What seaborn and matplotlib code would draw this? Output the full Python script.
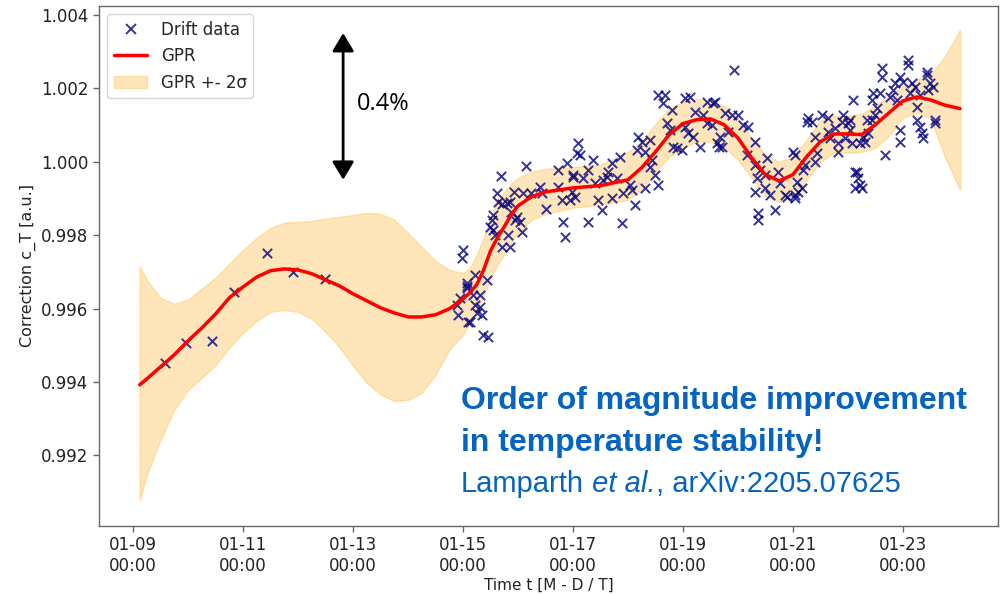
import numpy as np
import pandas as pd
import matplotlib
matplotlib.use("Agg")
import matplotlib.pyplot as plt
import matplotlib.dates as mdates
from matplotlib.lines import Line2D
from matplotlib.patches import Patch
import seaborn as sns

# ---- data -------------------------------------------------------------
start = pd.Timestamp("2022-01-09 00:00")

# drift measurements: time since start [days] and correction factor
drift_day = [
    0.58, 0.96, 1.44, 1.84, 2.44, 2.91, 3.49,
    6.00, 5.98, 6.07, 5.95, 5.91, 6.09, 7.15, 6.69, 6.62, 6.64, 6.71, 6.85,
    6.93, 7.09, 7.24, 7.40, 7.44, 7.51, 7.73, 7.89, 8.00, 8.07, 7.73, 7.80,
    7.95, 7.82, 7.85, 6.55, 6.53, 6.49, 6.58, 6.80, 6.87, 6.95, 7.04, 7.07,
    6.82, 6.71, 6.85, 6.55, 6.22, 6.44, 6.07, 6.07, 6.18, 6.31, 5.89, 6.22,
    6.31, 6.25, 6.35, 6.13, 6.36, 6.45, 6.98,
    9.55, 9.67, 9.64, 10.04, 10.13, 10.44, 10.55, 10.22, 10.36, 10.44, 10.53,
    9.80, 9.71, 9.76, 10.04, 10.09, 10.18, 10.31, 9.82, 9.89, 9.98, 10.65,
    9.18, 9.25, 9.16, 9.40, 9.31, 9.44, 9.40, 9.49, 9.55, 9.31, 9.13, 9.04,
    9.07, 8.85, 8.71, 8.64, 8.62, 8.55, 8.80, 8.91, 8.71, 8.45, 8.53, 8.89,
    8.27, 8.36, 8.09, 8.13, 8.27, 8.00, 8.18, 8.40, 8.04, 7.98,
    10.93, 10.58, 10.76, 10.89, 11.00, 11.09, 10.82, 10.67, 10.62, 10.71,
    11.18, 11.31, 11.16, 11.53, 11.31, 11.40, 11.35, 11.49, 11.31, 11.49,
    11.58, 11.73, 11.76, 11.85, 11.89, 12.04, 12.09, 12.07, 12.04, 12.00,
    12.18, 12.22, 12.40, 12.16, 12.04, 11.36, 11.36, 11.67, 12.27, 12.25,
    12.35, 12.53, 12.64, 12.40, 12.44, 12.64, 12.67, 12.76, 12.91, 12.89,
    13.00, 12.95, 12.82, 12.82, 13.07, 13.09, 13.16, 13.18, 13.13,
    13.62, 13.62, 14.09, 14.09, 13.95, 14.00, 14.44, 14.44, 13.85, 14.16,
    14.22, 14.49, 14.55, 14.45, 14.31, 14.13, 13.82, 13.76, 13.89, 13.58,
    13.45, 13.44, 13.53, 13.49, 13.44, 13.35, 14.25, 14.25, 14.31, 14.35,
    14.36, 14.58, 14.58, 13.95, 13.95, 13.36, 13.27, 13.22, 13.31, 13.04,
    13.67, 13.13, 13.22, 13.25, 13.04,
]
drift_val = [
    0.99451, 0.99506, 0.99512, 0.99645, 0.99752, 0.99700, 0.99681,
    0.99760, 0.99738, 0.99662, 0.99629, 0.99583, 0.99564, 0.99989, 0.99962,
    0.99915, 0.99891, 0.99885, 0.99891, 0.99918, 0.99915, 0.99915, 0.99932,
    0.99915, 0.99872, 0.99978, 0.99997, 0.99959, 1.00025, 0.99932, 0.99896,
    0.99896, 0.99836, 0.99795, 0.99855, 0.99842, 0.99823, 0.99801, 0.99888,
    0.99864, 0.99842, 0.99836, 0.99809, 0.99801, 0.99768, 0.99768, 0.99815,
    0.99692, 0.99678, 0.99670, 0.99656, 0.99637, 0.99637, 0.99610, 0.99610,
    0.99605, 0.99588, 0.99583, 0.99564, 0.99528, 0.99523, 0.99850,
    1.00183, 1.00183, 1.00161, 1.00175, 1.00177, 1.00164, 1.00161, 1.00136,
    1.00128, 1.00106, 1.00101, 1.00142, 1.00106, 1.00087, 1.00095, 1.00079,
    1.00068, 1.00041, 1.00041, 1.00038, 1.00033, 1.00041, 1.00068, 1.00055,
    1.00033, 1.00060, 1.00027, 1.00005, 0.99986, 0.99965, 0.99937, 0.99929,
    0.99883, 0.99937, 0.99924, 1.00014, 0.99997, 0.99973, 0.99959, 0.99951,
    0.99956, 0.99915, 0.99902, 0.99896, 0.99869, 0.99834, 0.99836, 1.00005,
    1.00052, 1.00019, 0.99978, 0.99965, 0.99956, 0.99943, 0.99905, 0.99918,
    1.00251, 1.00164, 1.00134, 1.00128, 1.00128, 1.00101, 1.00082, 1.00068,
    1.00052, 1.00041, 1.00095, 1.00055, 1.00019, 1.00011, 0.99992, 0.99978,
    0.99956, 0.99965, 0.99918, 0.99929, 0.99910, 0.99973, 0.99943, 0.99910,
    0.99905, 0.99910, 0.99918, 0.99945, 1.00019, 1.00027, 0.99978, 0.99992,
    1.00000, 0.99929, 0.99902, 0.99861, 0.99842, 0.99869, 1.00120, 1.00109,
    1.00109, 1.00128, 1.00120, 1.00068, 1.00025, 1.00082, 1.00065, 1.00093,
    1.00128, 1.00109, 1.00106, 1.00065, 1.00052, 1.00027, 1.00052, 1.00169,
    0.99973, 0.99956, 0.99929,
    1.00256, 1.00232, 1.00278, 1.00265, 1.00232, 1.00218, 1.00245, 1.00237,
    1.00215, 1.00215, 1.00205, 1.00215, 1.00205, 1.00196, 1.00183, 1.00188,
    1.00196, 1.00177, 1.00169, 1.00188, 1.00188, 1.00169, 1.00147, 1.00128,
    1.00115, 1.00115, 1.00150, 1.00115, 1.00095, 1.00079, 1.00065, 1.00115,
    1.00106, 1.00087, 1.00055, 1.00079, 1.00068, 1.00052, 1.00055, 1.00087,
    1.00019, 0.99973, 0.99937, 0.99929, 1.00115,
]

# Gaussian-process regression: prediction grid [days], mean and 2-sigma band
gpr_day = [
    0.12, 0.25, 0.5, 0.75, 1.0, 1.25, 1.5, 1.75, 2.0, 2.25, 2.5, 2.75, 3.0,
    3.25, 3.5, 3.75, 4.0, 4.25, 4.5, 4.75, 5.0, 5.25, 5.5, 5.75, 6.0,
    6.125, 6.25, 6.375, 6.5, 6.625, 6.75, 6.875, 7.0, 7.25,
    7.5, 8.0, 8.5, 9.0, 9.25, 9.5, 9.75, 10.0, 10.25, 10.5, 10.75, 11.0,
    11.25, 11.5, 11.75, 12.0, 12.25, 12.5, 12.75, 13.0, 13.25, 13.5, 13.75,
    14.0, 14.25, 14.5, 14.75, 15.04,
]
gpr_mean = [
    0.99392, 0.99408, 0.99441, 0.99474, 0.99512, 0.99547, 0.99585, 0.99629,
    0.99659, 0.99686, 0.99703, 0.99708, 0.99705, 0.99695, 0.99678, 0.99662,
    0.99640, 0.99621, 0.99602, 0.99588, 0.99577, 0.99577, 0.99583, 0.99599,
    0.99626,
    0.99643, 0.99665, 0.99705, 0.99757, 0.99793, 0.99823, 0.99855, 0.99880,
    0.99905,
    0.99918, 0.99929, 0.99935, 0.99951, 0.99984, 1.00027, 1.00074, 1.00104,
    1.00115, 1.00117, 1.00101, 1.00065, 1.00011, 0.99965, 0.99948, 0.99965,
    1.00014, 1.00055, 1.00076, 1.00076, 1.00074, 1.00101, 1.00134, 1.00166,
    1.00177, 1.00169, 1.00155, 1.00145,
]
gpr_upper = [
    0.99714, 0.99678, 0.99629, 0.99613, 0.99624, 0.99654, 0.99684, 0.99722,
    0.99760, 0.99793, 0.99820, 0.99834, 0.99836, 0.99839, 0.99845, 0.99850,
    0.99855, 0.99861, 0.99858, 0.99842, 0.99806, 0.99768, 0.99730, 0.99705,
    0.99697,
    0.99711, 0.99746, 0.99793, 0.99845, 0.99891, 0.99918, 0.99940, 0.99956,
    0.99973,
    0.99981, 0.99986, 0.99992, 1.00027, 1.00052, 1.00104, 1.00145, 1.00164,
    1.00172, 1.00166, 1.00153, 1.00117, 1.00065, 1.00019, 1.00000, 1.00014,
    1.00060, 1.00112, 1.00125, 1.00125, 1.00131, 1.00153, 1.00180, 1.00205,
    1.00224, 1.00237, 1.00284, 1.00360,
]
gpr_lower = [
    0.99078, 0.99146, 0.99242, 0.99324, 0.99378, 0.99411, 0.99446, 0.99493,
    0.99534, 0.99566, 0.99591, 0.99596, 0.99591, 0.99572, 0.99536, 0.99495,
    0.99444, 0.99397, 0.99365, 0.99348, 0.99351, 0.99370, 0.99419, 0.99487,
    0.99528,
    0.99561, 0.99594, 0.99635, 0.99681, 0.99719, 0.99746, 0.99779, 0.99806,
    0.99842,
    0.99858, 0.99875, 0.99883, 0.99896, 0.99924, 0.99973, 1.00014, 1.00038,
    1.00055, 1.00055, 1.00041, 1.00005, 0.99956, 0.99907, 0.99891, 0.99907,
    0.99951, 1.00000, 1.00025, 1.00025, 1.00027, 1.00038, 1.00071, 1.00120,
    1.00134, 1.00120, 1.00019, 0.99924,
]

drift_time = start + pd.to_timedelta(drift_day, unit="D")
gpr_time = start + pd.to_timedelta(gpr_day, unit="D")

# ---- style ------------------------------------------------------------
sns.set_style("ticks")
plt.rcParams["font.family"] = ["DejaVu Sans"]
plt.rcParams["axes.edgecolor"] = "#666666"
plt.rcParams["xtick.color"] = "#666666"
plt.rcParams["ytick.color"] = "#666666"
plt.rcParams["xtick.labelcolor"] = "#222222"
plt.rcParams["ytick.labelcolor"] = "#222222"

fig = plt.figure(figsize=(10.02, 5.95), dpi=100)
ax = fig.add_axes([0.0988, 0.116, 0.8972, 0.874])

# ---- marks ------------------------------------------------------------
ax.fill_between(gpr_time, gpr_lower, gpr_upper, color="orange", alpha=0.27,
                linewidth=1, zorder=1)
sns.scatterplot(x=drift_time, y=drift_val, marker="x", color="navy", s=45,
                linewidth=1.4, alpha=0.8, ax=ax, zorder=2, legend=False)
sns.lineplot(x=gpr_time, y=gpr_mean, color="red", linewidth=2.5,
             estimator=None, sort=False, ax=ax, zorder=3, legend=False)

# ---- axes -------------------------------------------------------------
ax.set_xlim(start + pd.Timedelta(days=-0.62), start + pd.Timedelta(days=15.73))
ax.set_ylim(0.99007, 1.00425)
ax.set_yticks([0.992, 0.994, 0.996, 0.998, 1.000, 1.002, 1.004])
ax.xaxis.set_major_locator(mdates.DayLocator(bymonthday=range(1, 32, 2)))
ax.xaxis.set_major_formatter(mdates.DateFormatter("%m-%d\n%H:%M"))
ax.tick_params(axis="both", labelsize=12, length=4, width=1)
for side in ax.spines.values():
    side.set_visible(True)
    side.set_linewidth(1.0)
ax.set_xlabel("Time t [M - D / T]", fontsize=11, color="#222222", labelpad=2)
ax.set_ylabel("Correction c_T [a.u.]", fontsize=11.5, color="#222222")

handles = [
    Line2D([], [], marker="x", linestyle="none", color="navy",
           markersize=7, markeredgewidth=1.4, alpha=0.8),
    Line2D([], [], color="red", linewidth=2.5),
    Patch(facecolor="orange", edgecolor="orange", alpha=0.27),
]
ax.legend(handles, ["Drift data", "GPR", "GPR +- 2\u03c3"], loc="upper left",
          fontsize=12, frameon=True)

# ---- annotations ------------------------------------------------------
arrow_x = start + pd.Timedelta(days=3.82)
ax.annotate("", xy=(arrow_x, 0.99951), xytext=(arrow_x, 1.00351),
            arrowprops=dict(arrowstyle="<|-|>,head_length=0.5,head_width=0.3",
                            color="black", lw=2, mutation_scale=22,
                            shrinkA=0, shrinkB=0))
ax.text(0.287, 0.8115, "0.4%", transform=ax.transAxes, fontsize=17,
        family="Open Sans", va="center", ha="left", color="black")

blue = "#0563c1"
ax.text(0.4027, 0.225, "Order of magnitude improvement", transform=ax.transAxes,
        fontsize=23, fontweight="bold", family="Liberation Sans", color=blue,
        va="baseline", ha="left")
ax.text(0.4027, 0.144, "in temperature stability!", transform=ax.transAxes,
        fontsize=23, fontweight="bold", family="Liberation Sans", color=blue,
        va="baseline", ha="left")
t1 = ax.text(0.4027, 0.0654, "Lamparth", transform=ax.transAxes, fontsize=21,
             family="Liberation Sans", color=blue, va="baseline", ha="left")
t2 = ax.annotate(" et al.", xy=(1, 0), xycoords=t1, fontsize=21,
                 family="Liberation Sans", style="italic", color=blue,
                 va="bottom", ha="left")
ax.annotate(", arXiv:2205.07625", xy=(1, 0), xycoords=t2, fontsize=21,
            family="Liberation Sans", color=blue, va="bottom", ha="left")

fig.savefig("out.png", dpi=100)
